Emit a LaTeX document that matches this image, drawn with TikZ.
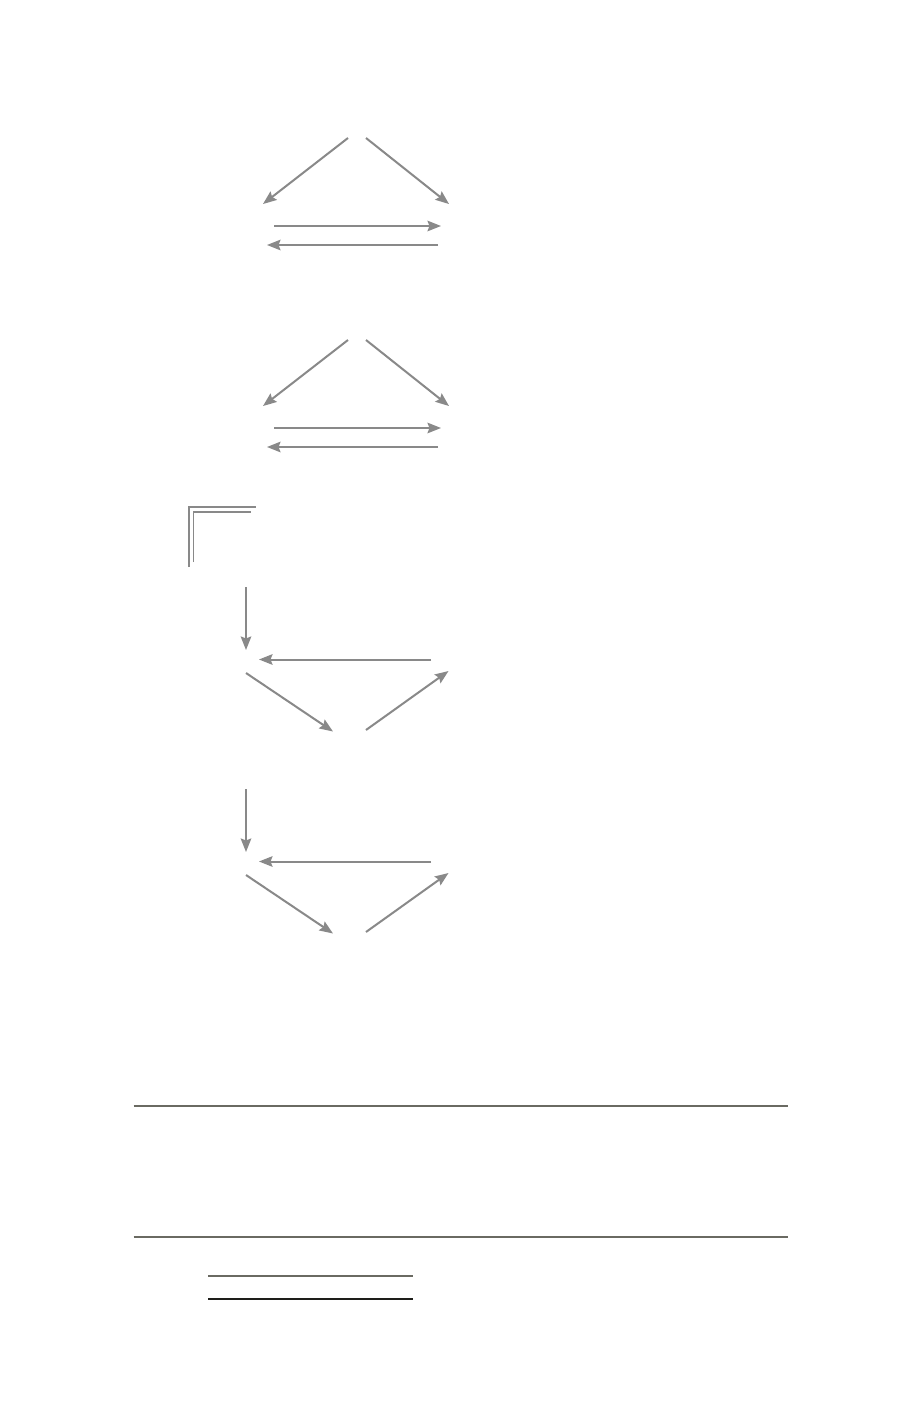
\documentclass[tikz,border=0pt]{standalone}
\usetikzlibrary{arrows.meta}
\definecolor{arr}{HTML}{898989}
\definecolor{rule}{HTML}{6A6A62}
\definecolor{ruleb}{HTML}{1E1E1A}
\tikzset{
  arrline/.style={draw=arr,line width=2pt,-{Stealth[length=13.5pt,width=10.5pt,inset=2pt]}},
  cornerline/.style={draw=arr,line width=1.6pt},
  hrule/.style={draw=rule,line width=1.4pt},
  hruleb/.style={draw=ruleb,line width=1.4pt}
}
\begin{document}
\begin{tikzpicture}[x=1pt,y=-1pt]
\useasboundingbox[fill=white] (0,0) rectangle (920,1406);
% upper groups
\foreach \dy/\g in {0/a,202/b}{
  \coordinate (\g tl) at (348,{138+\dy});
  \coordinate (\g tr) at (366,{138+\dy});
  \coordinate (\g l) at (263,{204+\dy});
  \coordinate (\g r) at (449,{204+\dy});
  \coordinate (\g h1s) at (274,{226+\dy});
  \coordinate (\g h1e) at (441,{226+\dy});
  \coordinate (\g h2s) at (438,{245+\dy});
  \coordinate (\g h2e) at (267,{245+\dy});
  \draw[arrline] (\g tl) -- (\g l);
  \draw[arrline] (\g tr) -- (\g r);
  \draw[arrline] (\g h1s) -- (\g h1e);
  \draw[arrline] (\g h2s) -- (\g h2e);
}
% corner
\coordinate (c1a) at (188.7,567);
\coordinate (c1b) at (188.7,506.7);
\coordinate (c1c) at (256,506.7);
\coordinate (c2a) at (193.3,562);
\coordinate (c2b) at (193.3,511.7);
\coordinate (c2c) at (251,511.7);
\draw[cornerline] (c1a) -- (c1b) -- (c1c);
\draw[cornerline] (c2a) -- (c2b) -- (c2c);
% lower groups
\foreach \dy/\g in {0/c,202/d}{
  \coordinate (\g vs) at (246,{587+\dy});
  \coordinate (\g ve) at (246,{650+\dy});
  \coordinate (\g hs) at (431,{659.5+\dy});
  \coordinate (\g he) at (259,{659.5+\dy});
  \coordinate (\g ds) at (246,{673+\dy});
  \coordinate (\g de) at (333,{731.5+\dy});
  \coordinate (\g us) at (366,{730+\dy});
  \coordinate (\g ue) at (448.5,{671+\dy});
  \draw[arrline] (\g vs) -- (\g ve);
  \draw[arrline] (\g hs) -- (\g he);
  \draw[arrline] (\g ds) -- (\g de);
  \draw[arrline] (\g us) -- (\g ue);
}
% rules
\coordinate (r1s) at (133.5,1106);
\coordinate (r1e) at (787.7,1106);
\coordinate (r2s) at (133.5,1237);
\coordinate (r2e) at (787.7,1237);
\coordinate (s1s) at (208.3,1276);
\coordinate (s1e) at (412.7,1276);
\coordinate (s2s) at (208.3,1299);
\coordinate (s2e) at (412.7,1299);
\draw[hrule] (r1s) -- (r1e);
\draw[hrule] (r2s) -- (r2e);
\draw[hrule] (s1s) -- (s1e);
\draw[hruleb] (s2s) -- (s2e);
\end{tikzpicture}
\end{document}
